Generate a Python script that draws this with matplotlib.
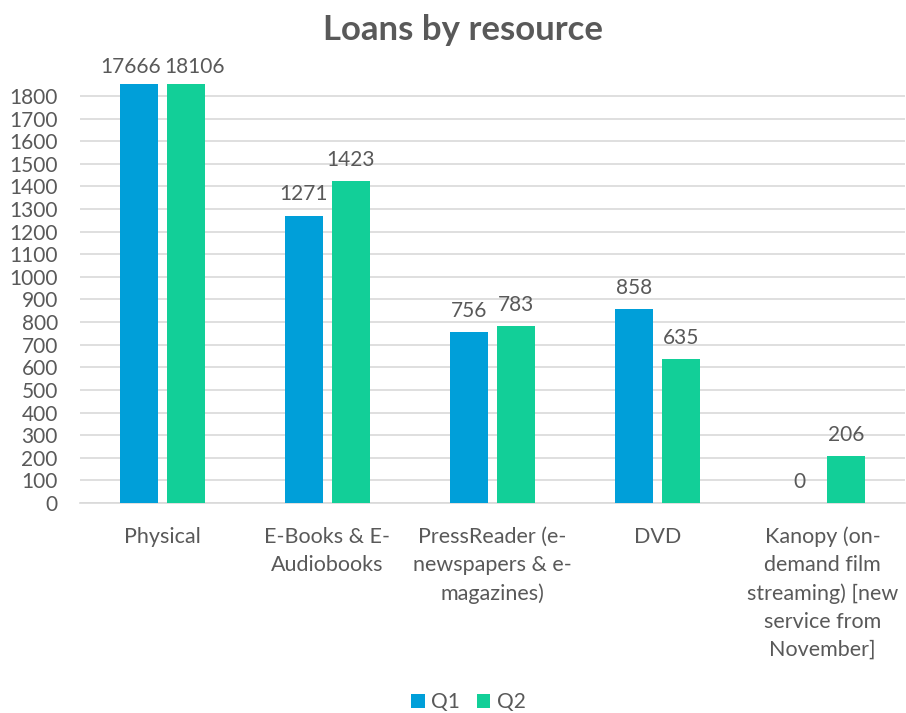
import matplotlib
matplotlib.use("Agg")
import matplotlib.pyplot as plt
import numpy as np

categories = [
    "Physical",
    "E-Books & E-\nAudiobooks",
    "PressReader (e-\nnewspapers & e-\nmagazines)",
    "DVD",
    "Kanopy (on-\ndemand film\nstreaming) [new\nservice from\nNovember]",
]
q1 = [17666, 1271, 756, 858, 0]
q2 = [18106, 1423, 783, 635, 206]
series_names = ["Q1", "Q2"]
yticks = list(range(0, 1900, 100))

colors = ["#009FD9", "#12CF98"]
text_color = "#595959"
plt.rcParams["font.family"] = ["Lato", "DejaVu Sans"]

fig = plt.figure(figsize=(9.06, 7.13), dpi=100)
ax = fig.add_axes([80 / 906, 1 - 503 / 713, 825 / 906, (503 - 84) / 713])

ymax = 1853
x = np.arange(len(categories))
bw = 0.225
gap = 0.06
offsets = [-(bw + gap) / 2, (bw + gap) / 2]

for si, (vals, off, c, name) in enumerate(zip([q1, q2], offsets, colors, series_names)):
    ax.bar(x + off, vals, width=bw, color=c, label=name, zorder=3)
    for xi, v in zip(x + off, vals):
        if v > ymax:
            # clipped bars: push the pair of labels apart around the gap
            anchor = xi - off
            ha = "right" if si == 0 else "left"
            dx = -1.5 if si == 0 else 1.5
            ax.annotate(f"{v}", (anchor, ymax), xytext=(dx, 5), textcoords="offset points",
                        ha=ha, va="bottom", fontsize=15, color=text_color,
                        annotation_clip=False)
        else:
            ax.annotate(f"{v}", (xi, v), xytext=(0, 8), textcoords="offset points",
                        ha="center", va="bottom", fontsize=15, color=text_color,
                        annotation_clip=False)

ax.set_ylim(0, ymax)
ax.set_xlim(-0.5, len(categories) - 0.5)
ax.set_yticks(yticks)
ax.set_yticklabels([str(t) for t in yticks], fontsize=15, color=text_color)
ax.set_xticks(x)
ax.set_xticklabels(categories, fontsize=15.5, color=text_color, linespacing=1.5)
ax.tick_params(axis="both", length=0)
ax.tick_params(axis="x", pad=17)
ax.tick_params(axis="y", pad=16)
ax.yaxis.grid(True, color="#D9D9D9", linewidth=1.2, zorder=0)
for s in ["top", "right", "left"]:
    ax.spines[s].set_visible(False)
ax.spines["bottom"].set_color("#D9D9D9")
ax.spines["bottom"].set_linewidth(1.2)

fig.text(0.511, 1 - 30 / 713, "Loans by resource", ha="center", va="center",
         fontsize=25, fontweight="bold", color=text_color)

leg = fig.legend(loc="center", bbox_to_anchor=(0.517, 1 - 702 / 713), ncol=2, frameon=False,
                 fontsize=15, handlelength=0.65, handleheight=0.65, handletextpad=0.3,
                 columnspacing=0.8)
for t in leg.get_texts():
    t.set_color(text_color)

fig.savefig("out.png", dpi=100)
